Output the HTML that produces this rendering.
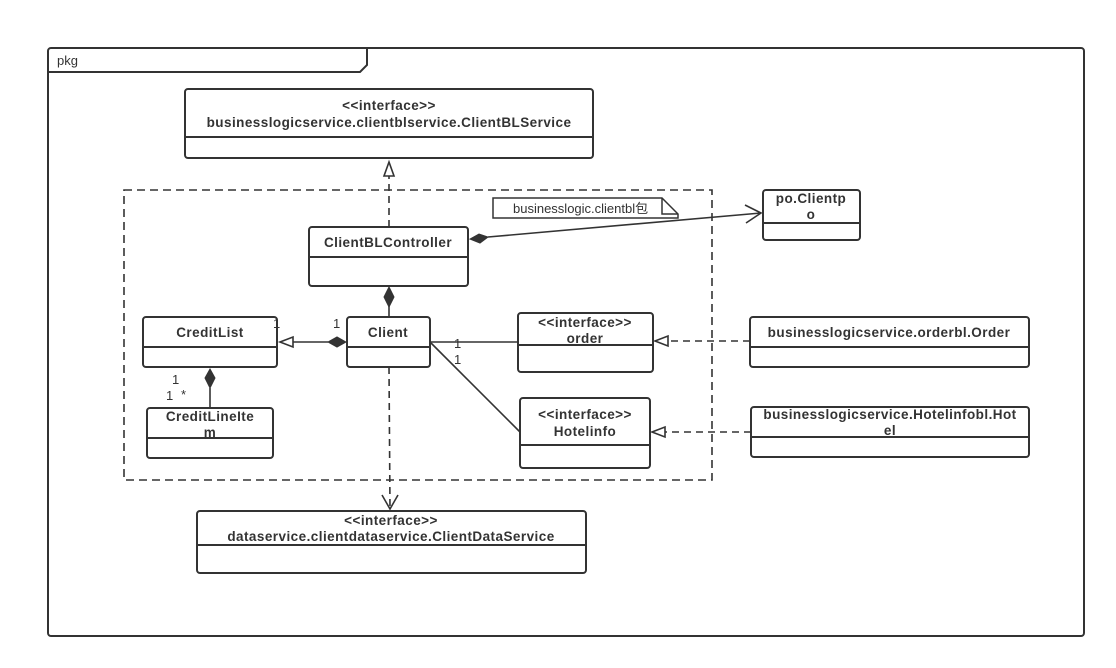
<!DOCTYPE html>
<html><head><meta charset="utf-8"><style>
html,body{margin:0;padding:0;background:#fff;}
svg{display:block;}
text{font-family:"Liberation Sans","Noto Sans CJK SC",sans-serif;fill:#333;}
.b{font-weight:bold;font-size:13.5px;text-anchor:middle;letter-spacing:0.45px;}
.n{font-size:13px;}
</style></head><body>
<svg width="1116" height="668" viewBox="0 0 1116 668" xmlns="http://www.w3.org/2000/svg">
<g fill="none" stroke="#333" stroke-width="2">
<rect x="48" y="48" width="1036" height="588" rx="3" fill="#fff"/>
<path d="M48 72 H360 L367 65 V48"/>
<rect x="124" y="190" width="588" height="290" stroke-dasharray="8,5" stroke-width="1.6"/>
<rect x="185" y="89" width="408" height="69" rx="3" fill="#fff"/><line x1="185" y1="137" x2="593" y2="137"/>
<rect x="763" y="190" width="97" height="50" rx="3" fill="#fff"/><line x1="763" y1="223" x2="860" y2="223"/>
<rect x="309" y="227" width="159" height="59" rx="3" fill="#fff"/><line x1="309" y1="257" x2="468" y2="257"/>
<rect x="143" y="317" width="134" height="50" rx="3" fill="#fff"/><line x1="143" y1="347" x2="277" y2="347"/>
<rect x="347" y="317" width="83" height="50" rx="3" fill="#fff"/><line x1="347" y1="347" x2="430" y2="347"/>
<rect x="518" y="313" width="135" height="59" rx="3" fill="#fff"/><line x1="518" y1="345" x2="653" y2="345"/>
<rect x="520" y="398" width="130" height="70" rx="3" fill="#fff"/><line x1="520" y1="445" x2="650" y2="445"/>
<rect x="147" y="408" width="126" height="50" rx="3" fill="#fff"/><line x1="147" y1="438" x2="273" y2="438"/>
<rect x="750" y="317" width="279" height="50" rx="3" fill="#fff"/><line x1="750" y1="347" x2="1029" y2="347"/>
<rect x="751" y="407" width="278" height="50" rx="3" fill="#fff"/><line x1="751" y1="437" x2="1029" y2="437"/>
<rect x="197" y="511" width="389" height="62" rx="3" fill="#fff"/><line x1="197" y1="545" x2="586" y2="545"/>
<path d="M493 198 H662 L678 214 V218 H493 Z" fill="#fff" stroke-width="1.5"/>
<path d="M662 198 V214 H678" stroke-width="1.5"/>
<line x1="389" y1="227" x2="389" y2="175" stroke-dasharray="7,5" stroke-width="1.6"/>
<path d="M389 162 L384 176 H394 Z" fill="#fff" stroke-width="1.6"/>
<line x1="488" y1="237" x2="761" y2="213" stroke-width="1.6"/>
<path d="M470 239 L479 234 L488 237 L480 243 Z" fill="#333" stroke-width="1"/>
<path d="M745 205 L761 213 L746 223" stroke-width="1.6"/>
<line x1="389" y1="306" x2="389" y2="317" stroke-width="1.6"/>
<path d="M389 287 L394 297 L389 307 L384 297 Z" fill="#333" stroke-width="1"/>
<line x1="293" y1="342" x2="328" y2="342" stroke-width="1.6"/>
<path d="M280 342 L293 337 V347 Z" fill="#fff" stroke-width="1.6"/>
<path d="M346 342 L337 337 L328 342 L337 347 Z" fill="#333" stroke-width="1"/>
<line x1="430" y1="342" x2="518" y2="342" stroke-width="1.6"/>
<line x1="431" y1="343" x2="520" y2="432" stroke-width="1.6"/>
<line x1="750" y1="341" x2="668" y2="341" stroke-dasharray="7,5" stroke-width="1.6"/>
<path d="M655 341 L668 336 V346 Z" fill="#fff" stroke-width="1.6"/>
<line x1="751" y1="432" x2="665" y2="432" stroke-dasharray="7,5" stroke-width="1.6"/>
<path d="M652 432 L665 427 V437 Z" fill="#fff" stroke-width="1.6"/>
<line x1="210" y1="388" x2="210" y2="408" stroke-width="1.6"/>
<path d="M210 369 L215 378 L210 388 L205 378 Z" fill="#333" stroke-width="1"/>
<line x1="389" y1="367" x2="390" y2="509" stroke-dasharray="7,5" stroke-width="1.6"/>
<path d="M382 495 L390 509 L398 495" stroke-width="1.6"/>
</g>
<text class="n" x="57" y="65">pkg</text>
<text class="b" x="389" y="110">&lt;&lt;interface&gt;&gt;</text>
<text class="b" x="389" y="127">businesslogicservice.clientblservice.ClientBLService</text>
<text class="n" x="513" y="213">businesslogic.clientbl包</text>
<text class="b" x="811" y="203">po.Clientp</text>
<text class="b" x="811" y="219">o</text>
<text class="b" x="388" y="247">ClientBLController</text>
<text class="b" x="210" y="337">CreditList</text>
<text class="b" x="388" y="337">Client</text>
<text class="b" x="585" y="327">&lt;&lt;interface&gt;&gt;</text>
<text class="b" x="585" y="343">order</text>
<text class="b" x="585" y="419">&lt;&lt;interface&gt;&gt;</text>
<text class="b" x="585" y="436">Hotelinfo</text>
<text class="b" x="210" y="421">CreditLineIte</text>
<text class="b" x="210" y="437">m</text>
<text class="b" x="889" y="337">businesslogicservice.orderbl.Order</text>
<text class="b" x="890" y="419">businesslogicservice.Hotelinfobl.Hot</text>
<text class="b" x="890" y="435">el</text>
<text class="b" x="391" y="525">&lt;&lt;interface&gt;&gt;</text>
<text class="b" x="391" y="541">dataservice.clientdataservice.ClientDataService</text>
<text class="n" x="273" y="328">1</text>
<text class="n" x="333" y="328">1</text>
<text class="n" x="454" y="348">1</text>
<text class="n" x="454" y="364">1</text>
<text class="n" x="172" y="384">1</text>
<text class="n" x="166" y="400">1</text>
<text class="n" x="181" y="399">*</text>
</svg>
</body></html>
